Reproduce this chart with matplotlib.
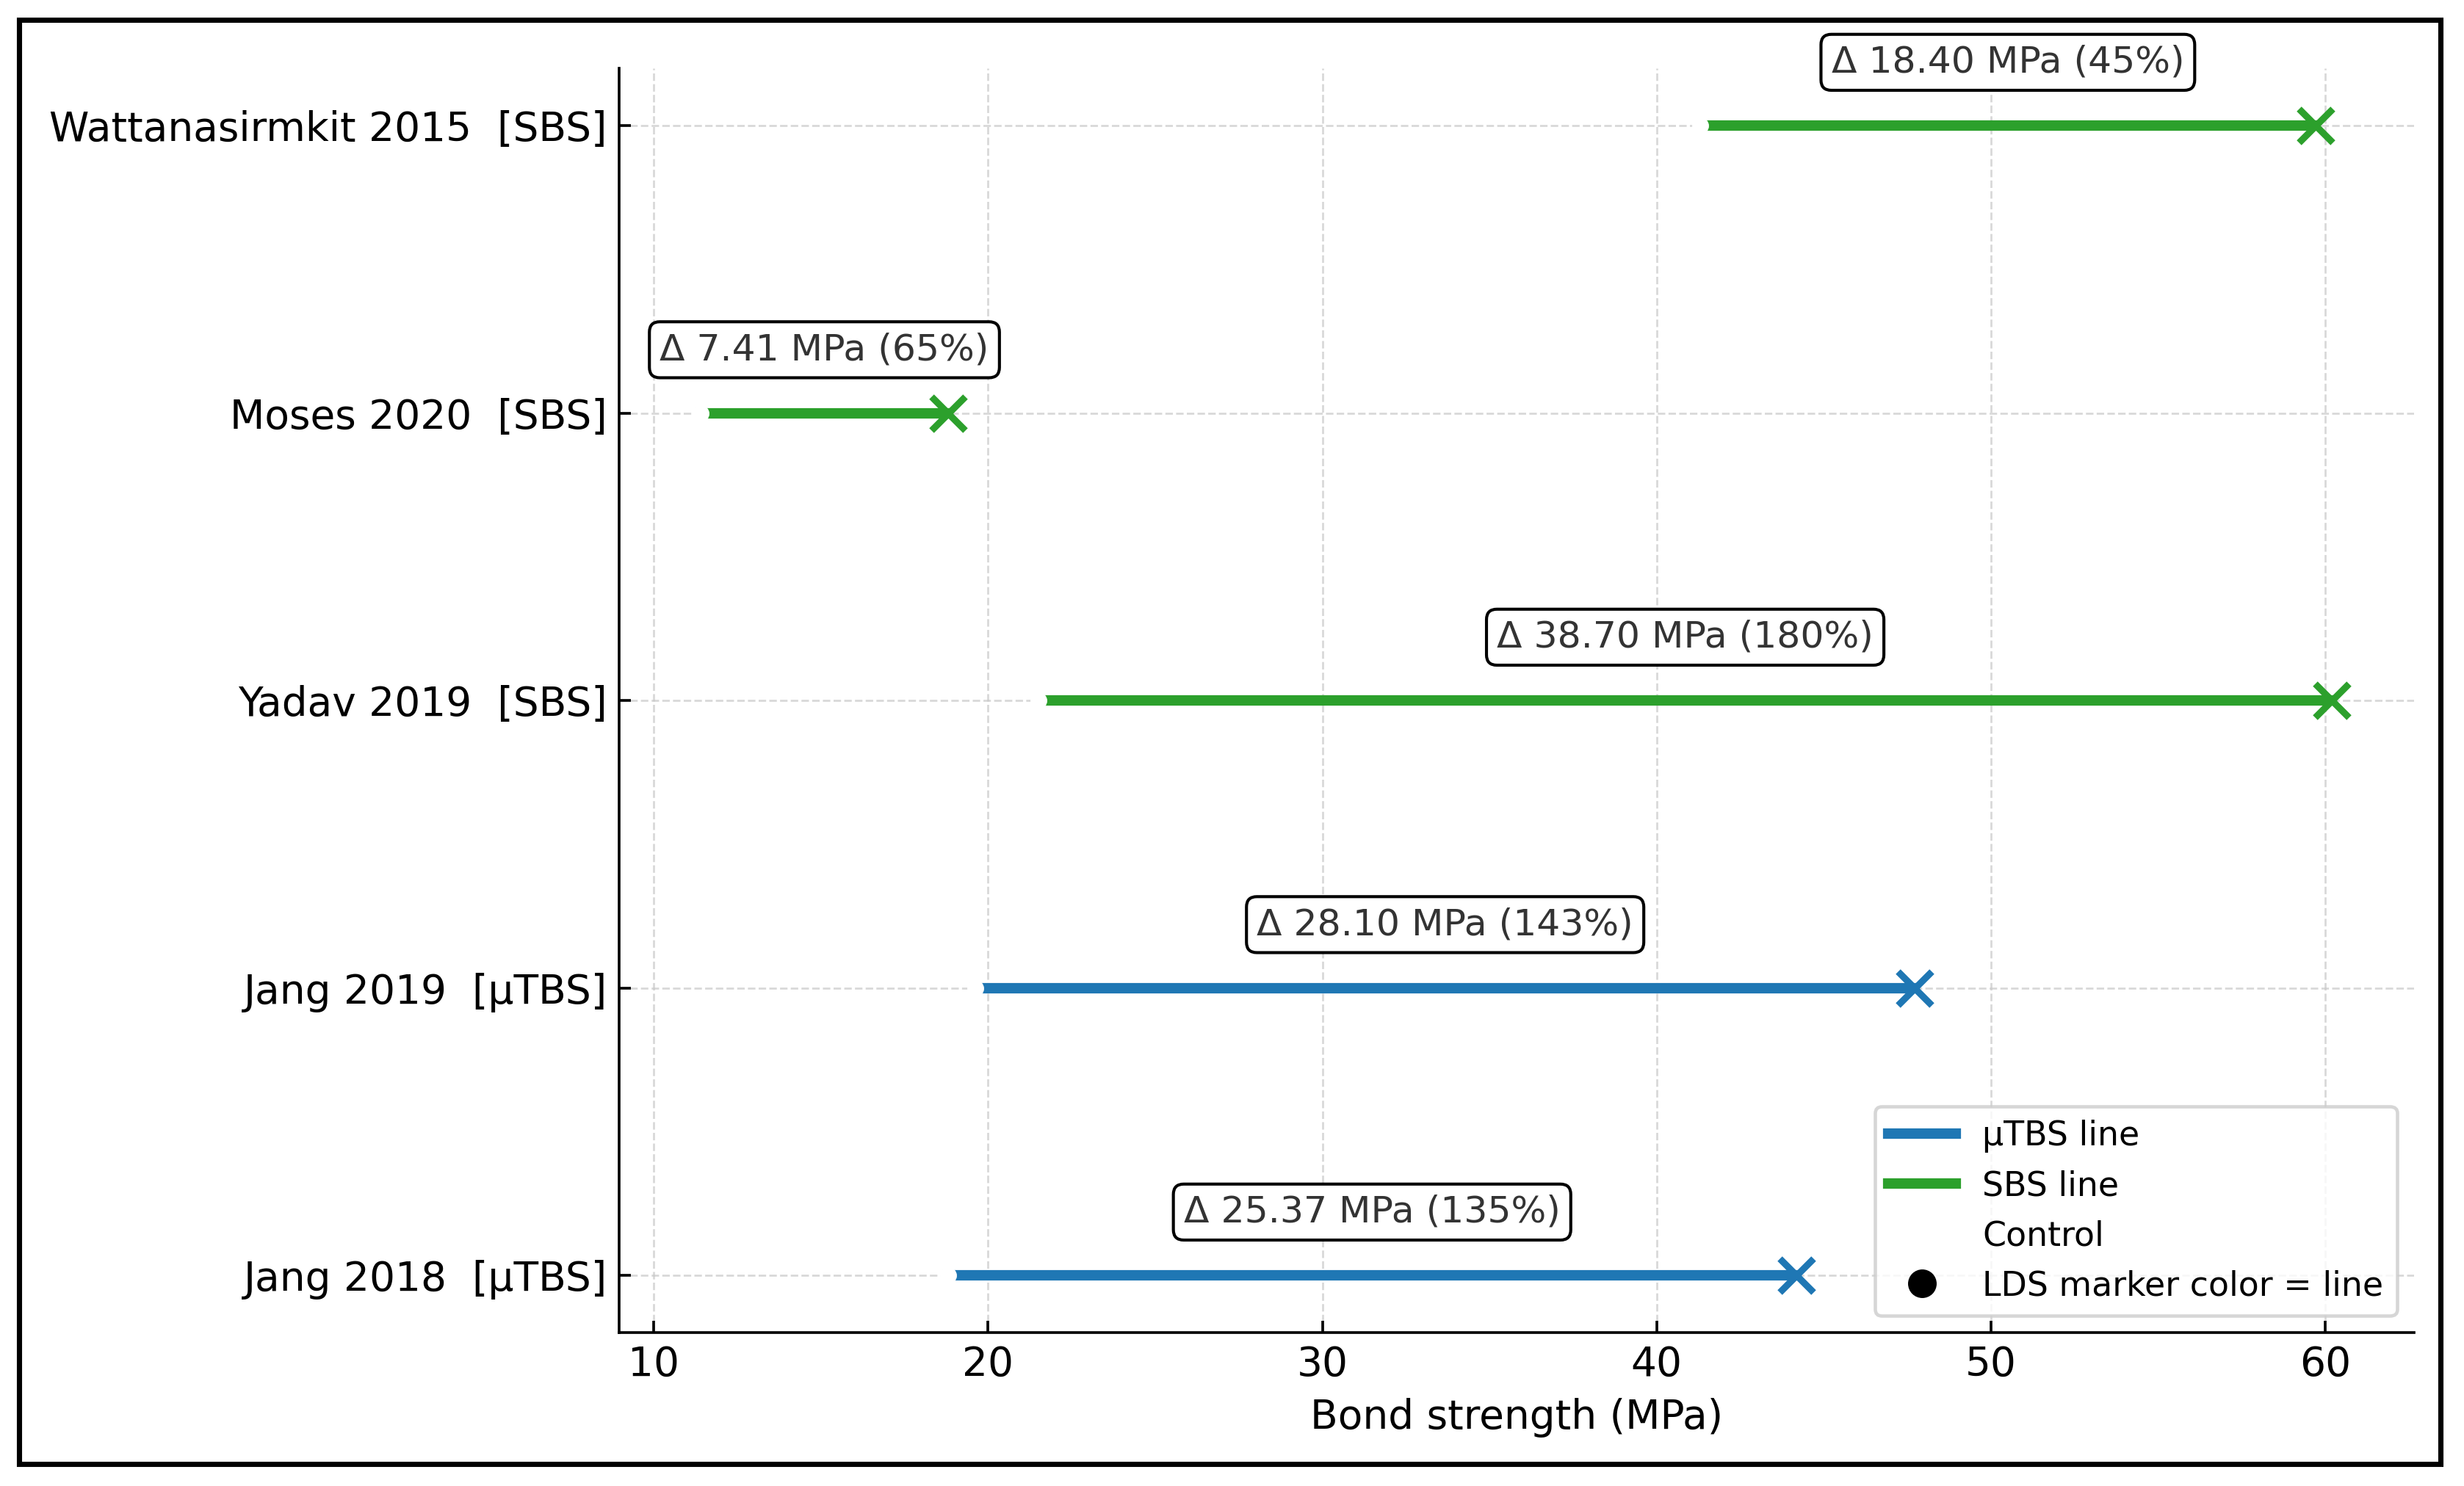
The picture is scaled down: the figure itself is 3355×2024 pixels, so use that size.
#!/usr/bin/env python
# encoding: utf-8

import numpy as np
from matplotlib import pyplot as plt
from matplotlib.lines import Line2D
from matplotlib.patches import Rectangle

studies = ["Jang 2018", "Jang 2019", "Yadav 2019", "Moses 2020", "Wattanasirmkit 2015"]
tests = ["µTBS", "µTBS", "SBS", "SBS", "SBS"]
control = [18.80, 19.62, 21.50, 11.40, 41.30]
lds = [44.17, 47.72, 60.20, 18.81, 59.70]

colors = {"µTBS": "#1f77b4", "SBS": "#2ca02c"}

DPI = 330
fig = plt.figure(figsize=(3355 / DPI, 2024 / DPI), dpi=DPI)
ax = fig.add_axes([0.2512, 0.1031, 0.9796 - 0.2512, 0.9542 - 0.1031])

y = np.arange(len(studies))
for i in range(len(studies)):
    c = colors[tests[i]]
    ax.plot([control[i], lds[i]], [y[i], y[i]], "-", color=c, lw=3.1, zorder=2)
    ax.plot(control[i], y[i], "o", color="white", ms=4, zorder=3)
    ax.plot(lds[i], y[i], "x", color=c, ms=10, mew=2.0, zorder=4)

    delta = lds[i] - control[i]
    pct = 100.0 * delta / control[i]
    ax.text(
        (control[i] + lds[i]) / 2.0, y[i] + 0.22,
        "Δ %.2f MPa (%.0f%%)" % (delta, pct),
        ha="center", va="center", fontsize=11, color="#333333",
        bbox=dict(boxstyle="round,pad=0.28", fc="white", ec="black", lw=0.9),
        zorder=5,
    )

ax.set_yticks(y)
ax.set_yticklabels(["%s  [%s]" % (s, t) for s, t in zip(studies, tests)])
ax.set_xlabel("Bond strength (MPa)", fontsize=12)
ax.tick_params(axis="both", direction="in", labelsize=12)

ax.grid(True, linestyle="--", linewidth=0.6, color="#c8c8c8", alpha=0.7)
ax.set_axisbelow(True)
ax.spines["top"].set_visible(False)
ax.spines["right"].set_visible(False)

handles = [
    Line2D([0], [0], color=colors["µTBS"], lw=3.1, label="µTBS line"),
    Line2D([0], [0], color=colors["SBS"], lw=3.1, label="SBS line"),
    Line2D([0], [0], marker="o", color="white", ls="none", label="Control"),
    Line2D([0], [0], marker="o", color="black", ls="none", ms=7.5,
           label="LDS marker color = line"),
]
ax.legend(handles=handles, loc="lower right", fontsize=10)

# black frame round the whole picture
fig.patches.append(Rectangle(
    (0.00775, 0.01482), 0.99046 - 0.00775, 0.98666 - 0.01482,
    transform=fig.transFigure, fill=False, ec="black", lw=1.55,
))

fig.savefig("out.png", dpi=DPI)
